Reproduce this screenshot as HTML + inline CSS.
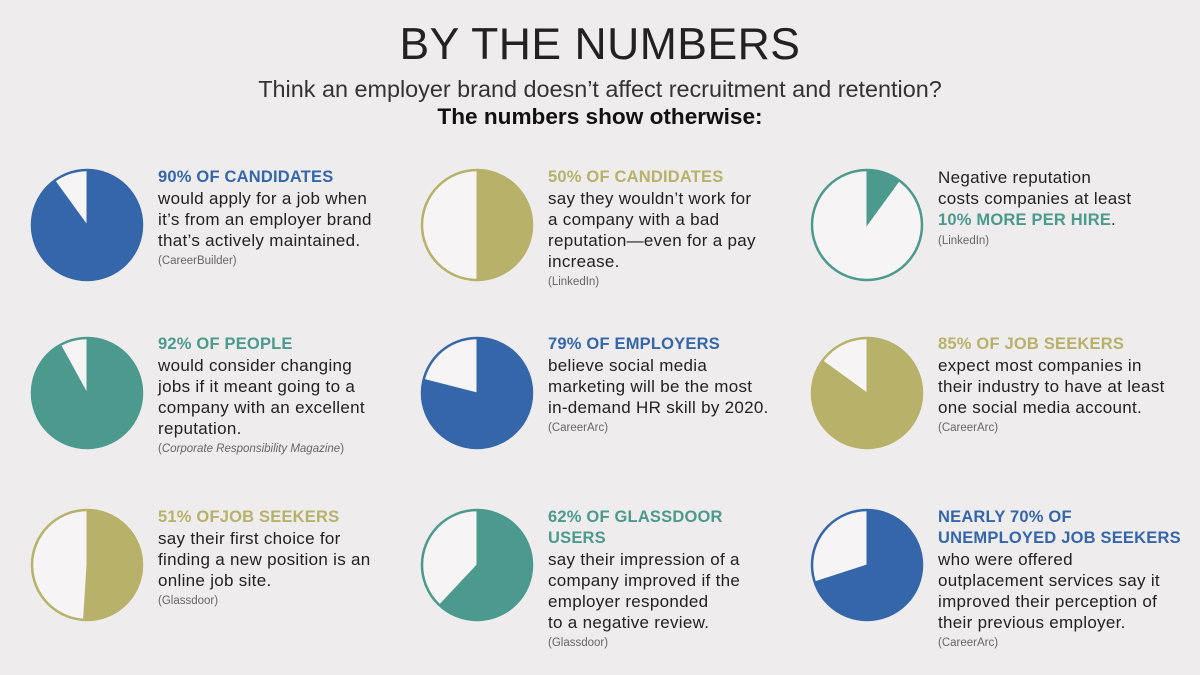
<!DOCTYPE html>
<html><head><meta charset="utf-8"><style>
body{margin:0;width:1200px;height:675px;background:#eeecec;font-family:"Liberation Sans",sans-serif;position:relative;overflow:hidden;color:#222}
#title{position:absolute;top:20px;left:0;width:1200px;text-align:center;font-size:44.5px;font-weight:normal;letter-spacing:0.5px;color:#222;line-height:50px}
#sub{position:absolute;top:76px;left:0;width:1200px;text-align:center;font-size:23.4px;color:#333;line-height:26px}
#sub2{position:absolute;top:104px;left:0;width:1200px;text-align:center;font-size:22.6px;font-weight:bold;color:#111;line-height:26px}
.blk{position:absolute;font-size:17px;line-height:21px;color:#222;white-space:nowrap;letter-spacing:0.3px}
.blk b{display:block;font-size:16.5px;letter-spacing:0.2px}
.src{font-size:11.5px;color:#666;line-height:20px;letter-spacing:0}
svg{position:absolute;left:0;top:0}
</style></head><body>
<div id="title">BY THE NUMBERS</div>
<div id="sub">Think an employer brand doesn’t affect recruitment and retention?</div>
<div id="sub2">The numbers show otherwise:</div>
<svg id="pies" width="1200" height="675"></svg>

<div class="blk" style="left:158px;top:167px"><b style="color:#3566aa">90% OF CANDIDATES</b>would apply for a job when<br>it’s from an employer brand<br>that’s actively maintained.<div class="src">(CareerBuilder)</div></div>
<div class="blk" style="left:548px;top:167px"><b style="color:#b8b16a">50% OF CANDIDATES</b>say they wouldn’t work for<br>a company with a bad<br>reputation—even for a pay<br>increase.<div class="src">(LinkedIn)</div></div>
<div class="blk" style="left:938px;top:167px">Negative reputation<br>costs companies at least<br><b style="color:#4b9a8d;display:inline">10% MORE PER HIRE</b>.<div class="src">(LinkedIn)</div></div>

<div class="blk" style="left:158px;top:334px"><b style="color:#4b9a8d">92% OF PEOPLE</b>would consider changing<br>jobs if it meant going to a<br>company with an excellent<br>reputation.<div class="src">(<i>Corporate Responsibility Magazine</i>)</div></div>
<div class="blk" style="left:548px;top:334px"><b style="color:#3566aa">79% OF EMPLOYERS</b>believe social media<br>marketing will be the most<br>in-demand HR skill by 2020.<div class="src">(CareerArc)</div></div>
<div class="blk" style="left:938px;top:334px"><b style="color:#b8b16a">85% OF JOB SEEKERS</b>expect most companies in<br>their industry to have at least<br>one social media account.<div class="src">(CareerArc)</div></div>

<div class="blk" style="left:158px;top:507px"><b style="color:#b8b16a">51% OFJOB SEEKERS</b>say their first choice for<br>finding a new position is an<br>online job site.<div class="src">(Glassdoor)</div></div>
<div class="blk" style="left:548px;top:507px"><b style="color:#4b9a8d">62% OF GLASSDOOR<br>USERS</b>say their impression of a<br>company improved if the<br>employer responded<br>to a negative review.<div class="src">(Glassdoor)</div></div>
<div class="blk" style="left:938px;top:507px"><b style="color:#3566aa">NEARLY 70% OF<br>UNEMPLOYED JOB SEEKERS</b>who were offered<br>outplacement services say it<br>improved their perception of<br>their previous employer.<div class="src">(CareerArc)</div></div>

<script>
const pieNames=["candidates-90","candidates-50","reputation-10","people-92","employers-79","jobseekers-85","jobseekers-51","glassdoor-62","unemployed-70"];
const pieValues=[90,50,10,92,79,85,51,62,70];
const pieColors=["#3566aa","#b8b16a","#4b9a8d","#4b9a8d","#3566aa","#b8b16a","#b8b16a","#4b9a8d","#3566aa"];
const colX=[87,477,867], rowY=[225,393,565], R=55;
const svg=document.getElementById('pies');
const NS="http://www.w3.org/2000/svg";
pieValues.forEach((v,i)=>{
  const cx=colX[i%3], cy=rowY[Math.floor(i/3)], c=pieColors[i];
  const bg=document.createElementNS(NS,'circle');
  bg.setAttribute('cx',cx);bg.setAttribute('cy',cy);bg.setAttribute('r',R);
  bg.setAttribute('fill','#f6f4f4');bg.setAttribute('stroke',c);bg.setAttribute('stroke-width','2.5');
  
  
  svg.appendChild(bg);
  const a=v/100*2*Math.PI;
  const x=cx+R*Math.sin(a), y=cy-R*Math.cos(a);
  const p=document.createElementNS(NS,'path');
  p.setAttribute('d',`M${cx},${cy} L${cx},${cy-R} A${R},${R} 0 ${v>50?1:0} 1 ${x},${y} Z`);
  p.setAttribute('fill',c);p.setAttribute('stroke',c);p.setAttribute('stroke-width','1');
  
  
  svg.appendChild(p);
});
</script>
</body></html>
